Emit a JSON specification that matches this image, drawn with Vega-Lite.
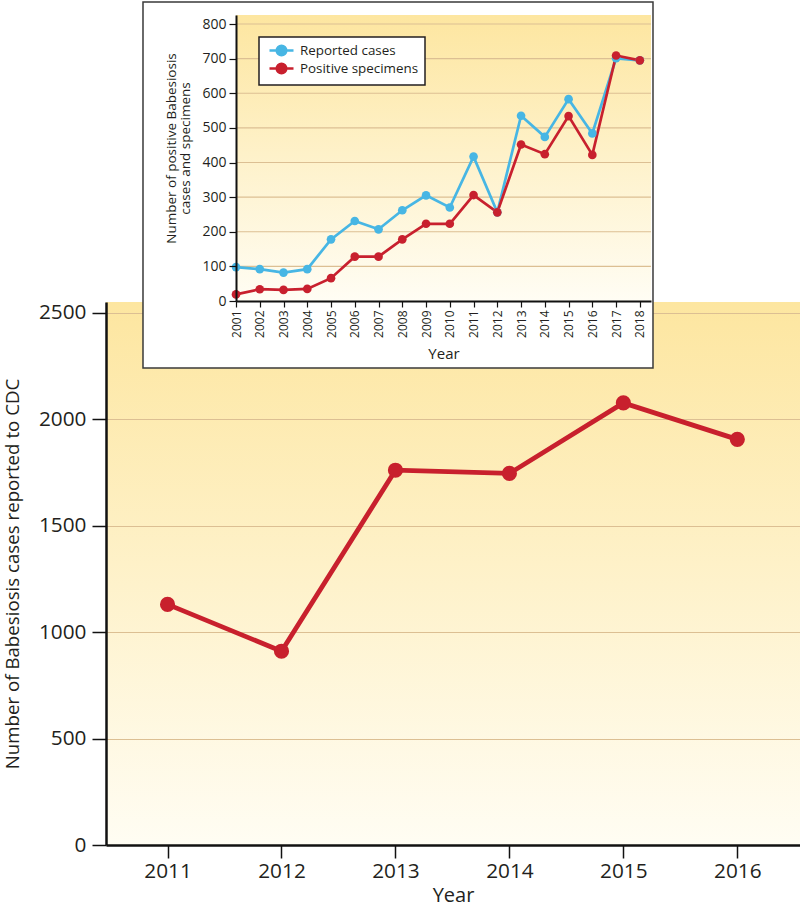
{
  "$schema": "https://vega.github.io/schema/vega-lite/v6.json",
  "width": 694,
  "height": 543,
  "autosize": {"type": "none"},
  "padding": {"left": 106, "top": 302, "right": 0, "bottom": 68},
  "background": "#ffffff",
  "config": {
    "font": "Open Sans",
    "view": {
      "stroke": null,
      "fill": {"gradient": "linear", "x1": 0, "y1": 0, "x2": 0, "y2": 1,
        "stops": [{"offset": 0, "color": "#fde6a0"}, {"offset": 1, "color": "#fffdf3"}]}
    },
    "axis": {
      "labelFont": "Open Sans", "titleFont": "Open Sans", "titleFontWeight": "normal",
      "labelColor": "#231f20", "titleColor": "#231f20",
      "domainColor": "#111111", "tickColor": "#111111"
    },
    "legend": {
      "orient": "none", "legendX": 153, "legendY": -265,
      "padding": 6, "strokeColor": "#231f20", "fillColor": "#ffffff", "strokeWidth": 1.5,
      "labelFont": "Open Sans", "labelFontSize": 13.4, "labelColor": "#231f20",
      "symbolType": "M-2,0L2,0M-0.8,0A0.8,0.8,0,1,0,0.8,0A0.8,0.8,0,1,0,-0.8,0Z",
      "symbolSize": 144, "symbolStrokeWidth": 2.5, "symbolOffset": 9,
      "labelOffset": 11, "rowPadding": -12
    }
  },
  "datasets": {
    "cdc": [
      {"year": 2011, "cases": 1130},
      {"year": 2012, "cases": 910},
      {"year": 2013, "cases": 1760},
      {"year": 2014, "cases": 1745},
      {"year": 2015, "cases": 2076},
      {"year": 2016, "cases": 1905}
    ],
    "inset": [
      {"series": "Reported cases", "year": 2001, "count": 98},
      {"series": "Reported cases", "year": 2002, "count": 92},
      {"series": "Reported cases", "year": 2003, "count": 82},
      {"series": "Reported cases", "year": 2004, "count": 92},
      {"series": "Reported cases", "year": 2005, "count": 178},
      {"series": "Reported cases", "year": 2006, "count": 231},
      {"series": "Reported cases", "year": 2007, "count": 207},
      {"series": "Reported cases", "year": 2008, "count": 262},
      {"series": "Reported cases", "year": 2009, "count": 305},
      {"series": "Reported cases", "year": 2010, "count": 270},
      {"series": "Reported cases", "year": 2011, "count": 417},
      {"series": "Reported cases", "year": 2012, "count": 256},
      {"series": "Reported cases", "year": 2013, "count": 535},
      {"series": "Reported cases", "year": 2014, "count": 474},
      {"series": "Reported cases", "year": 2015, "count": 583},
      {"series": "Reported cases", "year": 2016, "count": 484},
      {"series": "Reported cases", "year": 2017, "count": 701},
      {"series": "Reported cases", "year": 2018, "count": 695},
      {"series": "Positive specimens", "year": 2001, "count": 19},
      {"series": "Positive specimens", "year": 2002, "count": 34},
      {"series": "Positive specimens", "year": 2003, "count": 32},
      {"series": "Positive specimens", "year": 2004, "count": 35},
      {"series": "Positive specimens", "year": 2005, "count": 66},
      {"series": "Positive specimens", "year": 2006, "count": 128},
      {"series": "Positive specimens", "year": 2007, "count": 128},
      {"series": "Positive specimens", "year": 2008, "count": 178},
      {"series": "Positive specimens", "year": 2009, "count": 223},
      {"series": "Positive specimens", "year": 2010, "count": 223},
      {"series": "Positive specimens", "year": 2011, "count": 306},
      {"series": "Positive specimens", "year": 2012, "count": 256},
      {"series": "Positive specimens", "year": 2013, "count": 452},
      {"series": "Positive specimens", "year": 2014, "count": 424},
      {"series": "Positive specimens", "year": 2015, "count": 534},
      {"series": "Positive specimens", "year": 2016, "count": 422},
      {"series": "Positive specimens", "year": 2017, "count": 709},
      {"series": "Positive specimens", "year": 2018, "count": 695}
    ],
    "insetgrid": [
      {"v": 100}, {"v": 200}, {"v": 300}, {"v": 400},
      {"v": 500}, {"v": 600}, {"v": 700}, {"v": 800}
    ]
  },
  "layer": [
    {
      "data": {"name": "cdc"},
      "encoding": {
        "x": {
          "field": "year", "type": "quantitative",
          "scale": {"domain": [2010.46, 2016.55], "nice": false, "zero": false},
          "axis": {
            "values": [2011, 2012, 2013, 2014, 2015, 2016], "format": "d",
            "title": "Year", "grid": false, "domainWidth": 2.5, "tickWidth": 1.5,
            "tickSize": 13, "labelFontSize": 20.8, "labelPadding": 3,
            "titleFontSize": 20, "titlePadding": 5
          }
        },
        "y": {
          "field": "cases", "type": "quantitative",
          "scale": {"domain": [0, 2550], "nice": false},
          "axis": {
            "values": [0, 500, 1000, 1500, 2000, 2500], "format": "d",
            "title": "Number of Babesiosis cases reported to CDC",
            "grid": true, "gridColor": "#dcbf93", "gridWidth": 1.2,
            "domainWidth": 2.5, "tickWidth": 1.5, "tickSize": 14,
            "labelFontSize": 20.8, "labelPadding": 6,
            "titleFontSize": 18.7, "titlePadding": 16
          }
        }
      },
      "layer": [
        {"mark": {"type": "line", "color": "#c8202d", "strokeWidth": 4.8}},
        {"mark": {"type": "circle", "color": "#c8202d", "size": 230, "opacity": 1}}
      ]
    },
    {
      "layer": [
        {
          "data": {"values": [{"part": "frame"}]},
          "mark": {"type": "rect", "fill": "#ffffff", "stroke": "#3a3a3a", "strokeWidth": 1.5},
          "encoding": {
            "x": {
              "datum": 1997.085, "type": "quantitative",
              "scale": {"domain": [2001, 2018.47], "range": [130, 545], "nice": false, "zero": false},
              "axis": {
                "orient": "bottom", "offset": -544, "zindex": 1,
                "values": [2001, 2002, 2003, 2004, 2005, 2006, 2007, 2008, 2009, 2010, 2011, 2012, 2013, 2014, 2015, 2016, 2017, 2018],
                "format": "d", "labelAngle": -90, "labelFontSize": 12, "labelPadding": 3,
                "tickSize": 6, "tickWidth": 1.2, "domainWidth": 2, "grid": false,
                "title": "Year", "titleFontSize": 15, "titlePadding": 9
              }
            },
            "x2": {"datum": 2018.554},
            "y": {
              "datum": -193.5, "type": "quantitative",
              "scale": {"domain": [0, 826], "range": [-1, -287], "nice": false, "zero": false},
              "axis": {
                "orient": "left", "offset": -130, "zindex": 1,
                "values": [0, 100, 200, 300, 400, 500, 600, 700, 800], "format": "d",
                "labelFontSize": 14, "labelPadding": 3,
                "tickSize": 7, "tickWidth": 1.2, "domainWidth": 2, "grid": false,
                "title": ["Number of positive Babesiosis", "cases and specimens"],
                "titleFontSize": 13.5, "titleLineHeight": 14, "titlePadding": 9, "titleY": -154
              }
            },
            "y2": {"datum": 863.5}
          }
        },
        {
          "data": {"values": [{"part": "plot"}]},
          "mark": {
            "type": "rect",
            "fill": {"gradient": "linear", "x1": 0, "y1": 0, "x2": 0, "y2": 1,
              "stops": [{"offset": 0, "color": "#fde6a0"}, {"offset": 1, "color": "#fffdf4"}]}
          },
          "encoding": {
            "x": {
              "datum": 2001, "type": "quantitative",
              "scale": {"domain": [2001, 2018.47], "range": [130, 545], "nice": false, "zero": false},
              "axis": {
                "orient": "bottom", "offset": -544, "zindex": 1,
                "values": [2001, 2002, 2003, 2004, 2005, 2006, 2007, 2008, 2009, 2010, 2011, 2012, 2013, 2014, 2015, 2016, 2017, 2018],
                "format": "d", "labelAngle": -90, "labelFontSize": 12, "labelPadding": 3,
                "tickSize": 6, "tickWidth": 1.2, "domainWidth": 2, "grid": false,
                "title": "Year", "titleFontSize": 15, "titlePadding": 9
              }
            },
            "x2": {"datum": 2018.47},
            "y": {
              "datum": 0, "type": "quantitative",
              "scale": {"domain": [0, 826], "range": [-1, -287], "nice": false, "zero": false},
              "axis": {
                "orient": "left", "offset": -130, "zindex": 1,
                "values": [0, 100, 200, 300, 400, 500, 600, 700, 800], "format": "d",
                "labelFontSize": 14, "labelPadding": 3,
                "tickSize": 7, "tickWidth": 1.2, "domainWidth": 2, "grid": false,
                "title": ["Number of positive Babesiosis", "cases and specimens"],
                "titleFontSize": 13.5, "titleLineHeight": 14, "titlePadding": 9, "titleY": -154
              }
            },
            "y2": {"datum": 826}
          }
        },
        {
          "data": {"name": "insetgrid"},
          "mark": {"type": "rule", "color": "#dcbf93", "strokeWidth": 1.2},
          "encoding": {
            "x": {
              "datum": 2001, "type": "quantitative",
              "scale": {"domain": [2001, 2018.47], "range": [130, 545], "nice": false, "zero": false},
              "axis": {
                "orient": "bottom", "offset": -544, "zindex": 1,
                "values": [2001, 2002, 2003, 2004, 2005, 2006, 2007, 2008, 2009, 2010, 2011, 2012, 2013, 2014, 2015, 2016, 2017, 2018],
                "format": "d", "labelAngle": -90, "labelFontSize": 12, "labelPadding": 3,
                "tickSize": 6, "tickWidth": 1.2, "domainWidth": 2, "grid": false,
                "title": "Year", "titleFontSize": 15, "titlePadding": 9
              }
            },
            "x2": {"datum": 2018.47},
            "y": {
              "field": "v", "type": "quantitative",
              "scale": {"domain": [0, 826], "range": [-1, -287], "nice": false, "zero": false},
              "axis": {
                "orient": "left", "offset": -130, "zindex": 1,
                "values": [0, 100, 200, 300, 400, 500, 600, 700, 800], "format": "d",
                "labelFontSize": 14, "labelPadding": 3,
                "tickSize": 7, "tickWidth": 1.2, "domainWidth": 2, "grid": false,
                "title": ["Number of positive Babesiosis", "cases and specimens"],
                "titleFontSize": 13.5, "titleLineHeight": 14, "titlePadding": 9, "titleY": -154
              }
            }
          }
        },
        {
          "data": {"name": "inset"},
          "mark": {"type": "line", "strokeWidth": 2.7},
          "encoding": {
            "x": {
              "field": "year", "type": "quantitative",
              "scale": {"domain": [2001, 2018.47], "range": [130, 545], "nice": false, "zero": false},
              "axis": {
                "orient": "bottom", "offset": -544, "zindex": 1,
                "values": [2001, 2002, 2003, 2004, 2005, 2006, 2007, 2008, 2009, 2010, 2011, 2012, 2013, 2014, 2015, 2016, 2017, 2018],
                "format": "d", "labelAngle": -90, "labelFontSize": 12, "labelPadding": 3,
                "tickSize": 6, "tickWidth": 1.2, "domainWidth": 2, "grid": false,
                "title": "Year", "titleFontSize": 15, "titlePadding": 9
              }
            },
            "y": {
              "field": "count", "type": "quantitative",
              "scale": {"domain": [0, 826], "range": [-1, -287], "nice": false, "zero": false},
              "axis": {
                "orient": "left", "offset": -130, "zindex": 1,
                "values": [0, 100, 200, 300, 400, 500, 600, 700, 800], "format": "d",
                "labelFontSize": 14, "labelPadding": 3,
                "tickSize": 7, "tickWidth": 1.2, "domainWidth": 2, "grid": false,
                "title": ["Number of positive Babesiosis", "cases and specimens"],
                "titleFontSize": 13.5, "titleLineHeight": 14, "titlePadding": 9, "titleY": -154
              }
            },
            "stroke": {
              "field": "series", "type": "nominal",
              "scale": {"domain": ["Reported cases", "Positive specimens"], "range": ["#47b6e4", "#c8202e"]},
              "legend": {"title": null, "zindex": 2}
            }
          }
        },
        {
          "data": {"name": "inset"},
          "mark": {"type": "circle", "size": 75, "opacity": 1},
          "encoding": {
            "x": {
              "field": "year", "type": "quantitative",
              "scale": {"domain": [2001, 2018.47], "range": [130, 545], "nice": false, "zero": false},
              "axis": {
                "orient": "bottom", "offset": -544, "zindex": 1,
                "values": [2001, 2002, 2003, 2004, 2005, 2006, 2007, 2008, 2009, 2010, 2011, 2012, 2013, 2014, 2015, 2016, 2017, 2018],
                "format": "d", "labelAngle": -90, "labelFontSize": 12, "labelPadding": 3,
                "tickSize": 6, "tickWidth": 1.2, "domainWidth": 2, "grid": false,
                "title": "Year", "titleFontSize": 15, "titlePadding": 9
              }
            },
            "y": {
              "field": "count", "type": "quantitative",
              "scale": {"domain": [0, 826], "range": [-1, -287], "nice": false, "zero": false},
              "axis": {
                "orient": "left", "offset": -130, "zindex": 1,
                "values": [0, 100, 200, 300, 400, 500, 600, 700, 800], "format": "d",
                "labelFontSize": 14, "labelPadding": 3,
                "tickSize": 7, "tickWidth": 1.2, "domainWidth": 2, "grid": false,
                "title": ["Number of positive Babesiosis", "cases and specimens"],
                "titleFontSize": 13.5, "titleLineHeight": 14, "titlePadding": 9, "titleY": -154
              }
            },
            "fill": {
              "field": "series", "type": "nominal",
              "scale": {"domain": ["Reported cases", "Positive specimens"], "range": ["#47b6e4", "#c8202e"]},
              "legend": {"title": null, "zindex": 2}
            }
          }
        }
      ]
    }
  ],
  "resolve": {"scale": {"x": "independent", "y": "independent"}}
}
